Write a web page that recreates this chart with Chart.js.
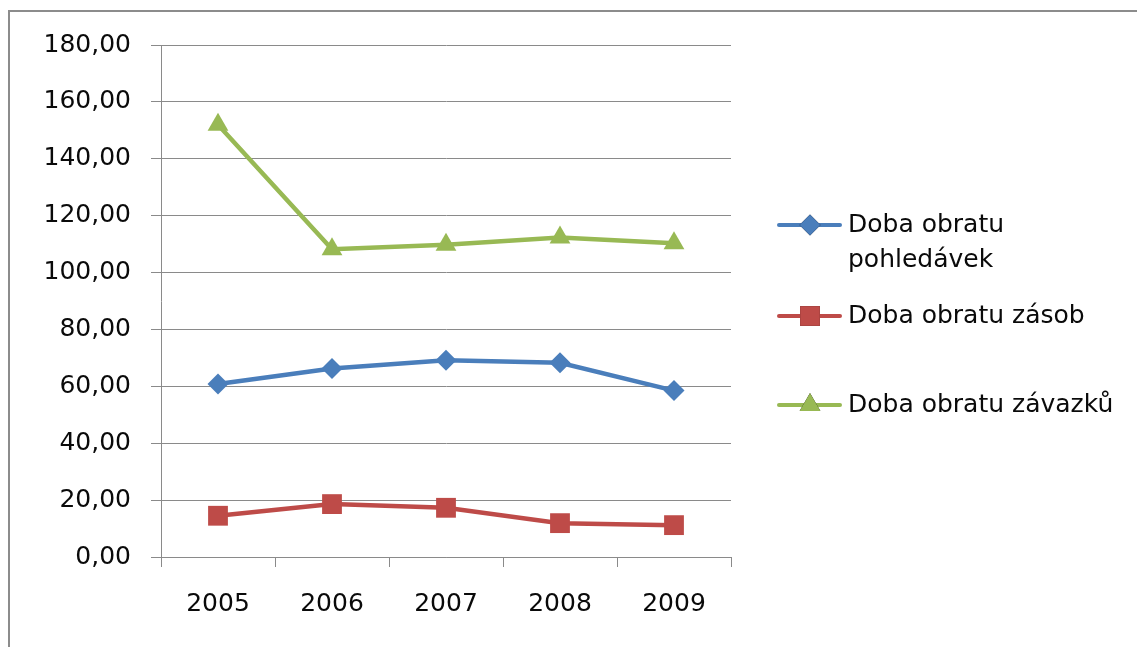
<!DOCTYPE html>
<html>
<head>
<meta charset="utf-8">
<script src="https://cdn.jsdelivr.net/npm/chart.js@4"></script>
<style>
  html, body { margin: 0; padding: 0; background: #fff; }
  .frame {
    position: absolute; left: 8px; top: 10px; width: 1200px; height: 700px;
    border: 2px solid #8c8c8c; box-sizing: border-box;
  }
  canvas { position: absolute; left: 0; top: 0; }
</style>
</head>
<body>
<div class="frame"></div>
<canvas id="chart" width="1137" height="647"></canvas>
<script>
// data
const years = ['2005', '2006', '2007', '2008', '2009'];
const pohledavky = [60.8, 66.3, 69.2, 68.3, 58.5];
const zasoby = [14.5, 18.6, 17.3, 11.9, 11.2];
const zavazky = [152.0, 108.2, 109.8, 112.3, 110.3];
const seriesNames = [['Doba obratu', 'pohledávek'], ['Doba obratu zásob'], ['Doba obratu závazků']];

const FONT = '"DejaVu Sans", sans-serif';
const GRID = '#8a8a8a';

// legend drawn by hand, excel style (marker with line through it)
const legendPlugin = {
  id: 'excelLegend',
  afterDraw(chart) {
    const ctx = chart.ctx;
    const rows = [225, 316, 405];
    chart.data.datasets.forEach((ds, i) => {
      const y = rows[i];
      ctx.save();
      ctx.strokeStyle = ds.borderColor;
      ctx.lineWidth = 4;
      ctx.lineCap = 'round';
      ctx.beginPath();
      ctx.moveTo(779, y);
      ctx.lineTo(840, y);
      ctx.stroke();
      Chart.helpers.drawPoint(ctx, {
        pointStyle: ds.pointStyle, radius: ds.pointRadius, borderWidth: 0
      }, 810, y);
      ctx.fillStyle = ds.pointBackgroundColor;
      ctx.fill();
      ctx.fillStyle = '#0a0a0a';
      ctx.font = '25px ' + FONT;
      ctx.textBaseline = 'middle';
      seriesNames[i].forEach((t, k) => ctx.fillText(t, 848, y + k * 35));
      ctx.restore();
    });
  }
};

const ds = (data, color, style, r) => ({
  data: data,
  borderColor: color,
  backgroundColor: color,
  pointBackgroundColor: color,
  pointBorderColor: color,
  pointBorderWidth: 0,
  borderWidth: 4.5,
  pointStyle: style,
  pointRadius: r,
  pointHoverRadius: r,
  tension: 0
});

new Chart(document.getElementById('chart'), {
  type: 'line',
  data: {
    labels: years,
    datasets: [
      ds(pohledavky, '#4a7ebb', 'rectRot', 10.5),
      ds(zasoby, '#be4b48', 'rect', 14),
      ds(zavazky, '#98b954', 'triangle', 12)
    ]
  },
  plugins: [legendPlugin],
  options: {
    responsive: false,
    animation: false,
    events: [],
    layout: { padding: { left: 0, top: 45, right: 406, bottom: 0 } },
    plugins: { legend: { display: false }, tooltip: { enabled: false } },
    scales: {
      x: {
        offset: true,
        grid: { offset: true, drawOnChartArea: false, drawTicks: true, tickLength: 10, color: GRID },
        border: { display: true, color: GRID, width: 1 },
        ticks: { color: '#0a0a0a', font: { family: FONT, size: 25 }, padding: 22 },
        afterFit(s) { s.height = 90; }
      },
      y: {
        min: 0, max: 180,
        grid: { color: GRID, tickLength: 10, lineWidth: 1 },
        border: { display: true, color: GRID, width: 1 },
        ticks: {
          stepSize: 20,
          color: '#0a0a0a',
          font: { family: FONT, size: 25 },
          padding: 20,
          callback: v => v.toFixed(2).replace('.', ',')
        },
        afterFit(s) { s.width = 161; }
      }
    }
  }
});
</script>
</body>
</html>
